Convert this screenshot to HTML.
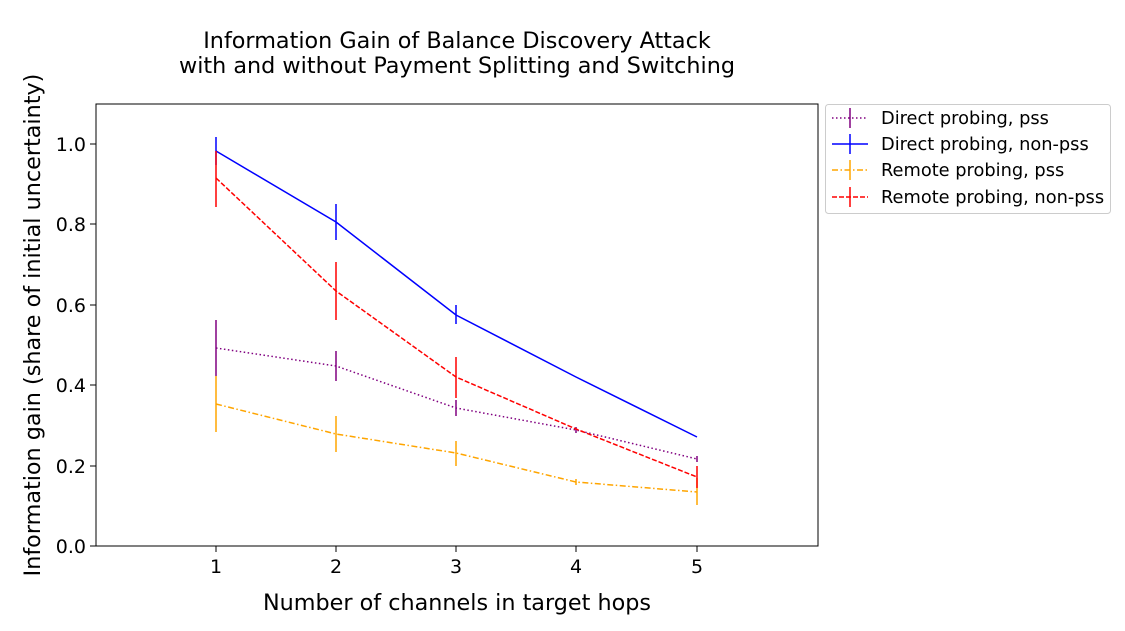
<!DOCTYPE html>
<html><head><meta charset="utf-8"><style>body{margin:0;background:#fff}</style></head><body>
<svg width="1125" height="626" xmlns="http://www.w3.org/2000/svg" font-family="DejaVu Sans, Liberation Sans, sans-serif">
<rect width="1125" height="626" fill="#fff"/>
<text x="457" y="48" font-size="22.3" text-anchor="middle">Information Gain of Balance Discovery Attack</text>
<text x="457" y="73" font-size="22.3" text-anchor="middle">with and without Payment Splitting and Switching</text>
<rect x="96" y="104" width="722" height="442" fill="none" stroke="#000" stroke-width="1"/>
<g font-size="19" text-anchor="end">
<text x="86" y="553">0.0</text><text x="86" y="473">0.2</text><text x="86" y="392">0.4</text><text x="86" y="312">0.6</text><text x="86" y="231">0.8</text><text x="86" y="151">1.0</text>
</g>
<g stroke="#000"><line x1="90" x2="96" y1="546" y2="546"/><line x1="90" x2="96" y1="466" y2="466"/><line x1="90" x2="96" y1="385" y2="385"/><line x1="90" x2="96" y1="305" y2="305"/><line x1="90" x2="96" y1="224" y2="224"/><line x1="90" x2="96" y1="144" y2="144"/>
<line y1="546" y2="552" x1="216" x2="216"/><line y1="546" y2="552" x1="336" x2="336"/><line y1="546" y2="552" x1="456" x2="456"/><line y1="546" y2="552" x1="576" x2="576"/><line y1="546" y2="552" x1="697" x2="697"/></g>
<g font-size="19" text-anchor="middle"><text x="216" y="573">1</text><text x="336" y="573">2</text><text x="456" y="573">3</text><text x="576" y="573">4</text><text x="697" y="573">5</text></g>
<text x="457" y="610" font-size="22.3" text-anchor="middle">Number of channels in target hops</text>
<text transform="translate(40,325) rotate(-90)" font-size="22.3" text-anchor="middle">Information gain (share of initial uncertainty)</text>
<g stroke="purple" stroke-width="1.5" fill="none">
<polyline points="216,348 336,366 456,408 576,430 697,459" stroke-dasharray="1.5,2.5"/>
<line x1="216" x2="216" y1="320" y2="376"/><line x1="336" x2="336" y1="351" y2="381"/><line x1="456" x2="456" y1="400" y2="416"/><line x1="576" x2="576" y1="427" y2="433"/><line x1="697" x2="697" y1="456" y2="462"/>
</g>
<g stroke="blue" stroke-width="1.5" fill="none">
<polyline points="216,151 336,222 456,315 576,377 697,437"/>
<line x1="216" x2="216" y1="137" y2="165"/><line x1="336" x2="336" y1="204" y2="240"/><line x1="456" x2="456" y1="305" y2="324"/>
</g>
<g stroke="orange" stroke-width="1.5" fill="none">
<polyline points="216,404 336,434 456,453 576,482 697,492" stroke-dasharray="6,2.5,1.5,2.5"/>
<line x1="216" x2="216" y1="376" y2="432"/><line x1="336" x2="336" y1="416" y2="452"/><line x1="456" x2="456" y1="441" y2="466"/><line x1="576" x2="576" y1="479" y2="485"/><line x1="697" x2="697" y1="478" y2="505"/>
</g>
<g stroke="red" stroke-width="1.5" fill="none">
<polyline points="216,178 336,291 456,377 576,429 697,477" stroke-dasharray="5,2"/>
<line x1="216" x2="216" y1="151" y2="207"/><line x1="336" x2="336" y1="262" y2="320"/><line x1="456" x2="456" y1="357" y2="398"/><line x1="697" x2="697" y1="466" y2="488"/>
</g>
<rect x="825.5" y="104.5" width="285" height="109" rx="3" fill="#fff" stroke="#ccc"/>
<g stroke-width="1.5" fill="none">
<line x1="832" x2="868" y1="118" y2="118" stroke="purple" stroke-dasharray="1.5,2.5"/><line x1="850" x2="850" y1="108" y2="128" stroke="purple"/>
<line x1="832" x2="868" y1="144" y2="144" stroke="blue"/><line x1="850" x2="850" y1="134" y2="154" stroke="blue"/>
<line x1="832" x2="868" y1="170" y2="170" stroke="orange" stroke-dasharray="6,2.5,1.5,2.5"/><line x1="850" x2="850" y1="160" y2="180" stroke="orange"/>
<line x1="832" x2="868" y1="197" y2="197" stroke="red" stroke-dasharray="5,2"/><line x1="850" x2="850" y1="187" y2="207" stroke="red"/>
</g>
<g font-size="17.8"><text x="881" y="124">Direct probing, pss</text><text x="881" y="150">Direct probing, non-pss</text><text x="881" y="176">Remote probing, pss</text><text x="881" y="203">Remote probing, non-pss</text></g>
</svg>
</body></html>
